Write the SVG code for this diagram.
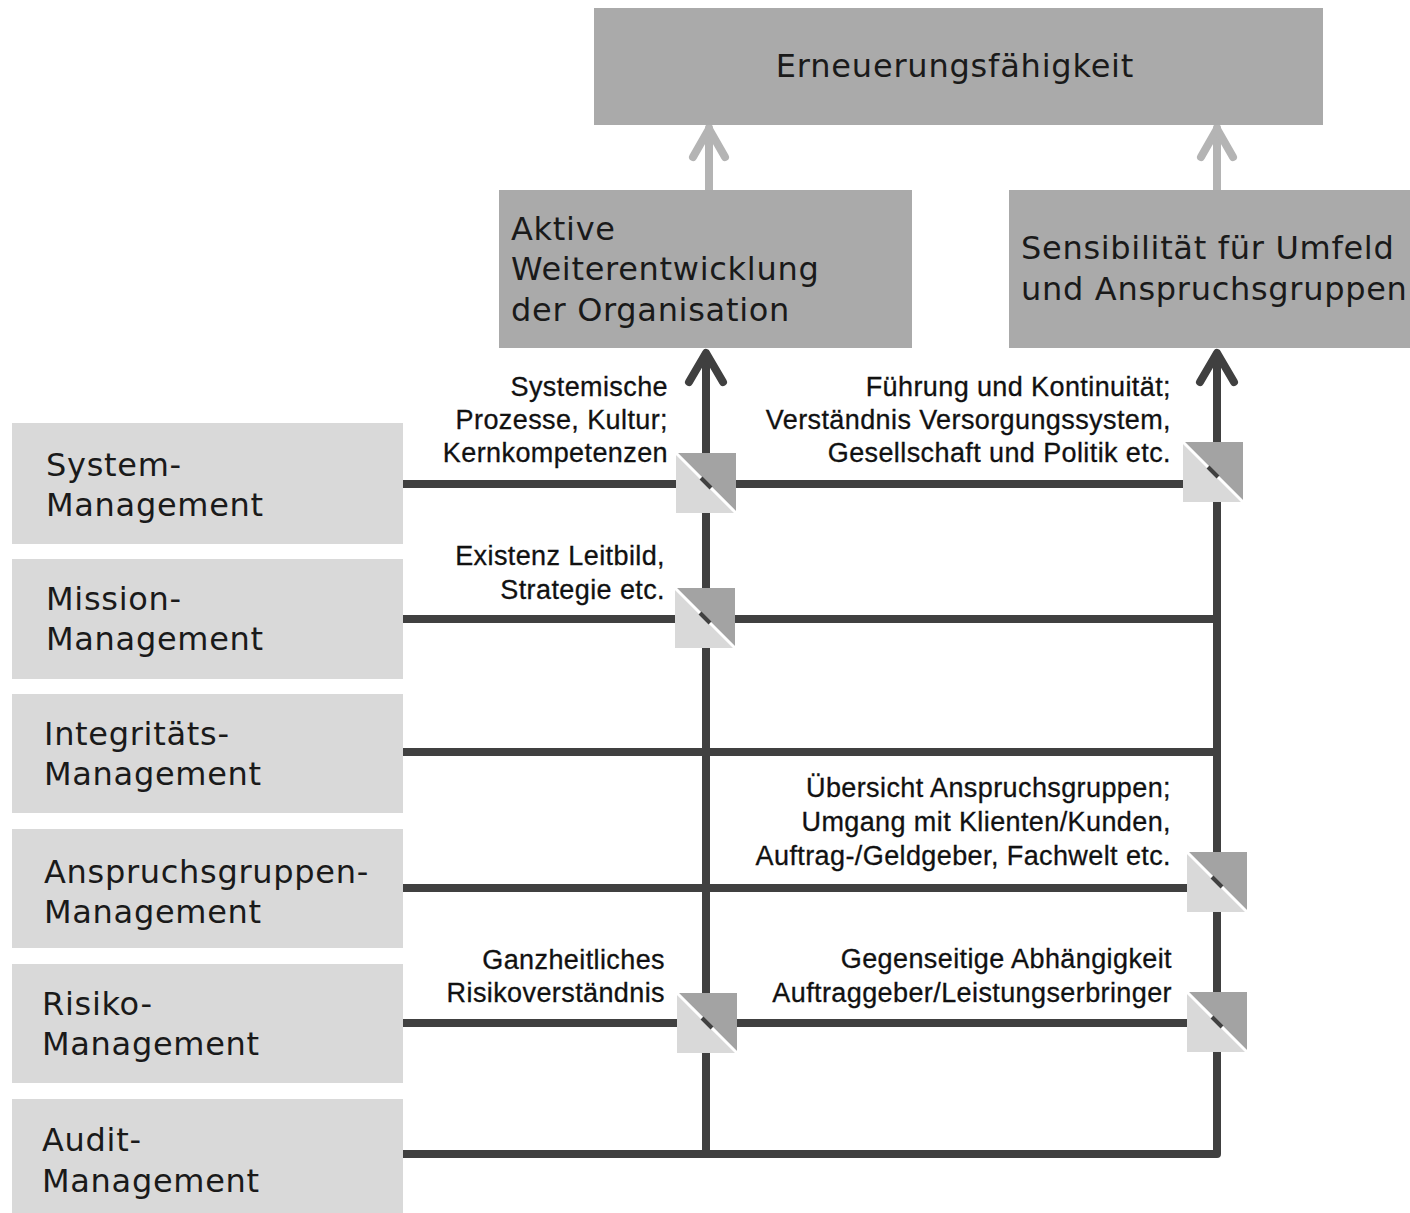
<svg xmlns="http://www.w3.org/2000/svg" width="1410" height="1213" viewBox="0 0 1410 1213">
<defs>
<style>
.dark{fill:#aaaaaa}
.light{fill:#d9d9d9}
.bt{font-family:"DejaVu Sans",Verdana,sans-serif;font-size:32px;letter-spacing:0.7px;fill:#1a1a1a}
.lb{font-family:"Liberation Sans",Arial,sans-serif;font-size:27px;letter-spacing:0.4px;fill:#111111;stroke:#111111;stroke-width:0.3;text-anchor:end}
.ln{stroke:#404040;stroke-width:8;fill:none}
.ga{stroke:#b4b4b4;stroke-width:8;fill:none;stroke-linecap:round;stroke-linejoin:round}
.da{stroke:#404040;stroke-width:8;fill:none;stroke-linecap:round;stroke-linejoin:round}
</style>
<g id="junction">
<polygon points="0,0 60,0 60,60" fill="#a3a3a3"/>
<polygon points="0,0 60,60 0,60" fill="#d9d9d9"/>
<line x1="0" y1="0" x2="60" y2="60" stroke="#ffffff" stroke-width="3"/>
<line x1="25" y1="25" x2="35" y2="35" stroke="#404040" stroke-width="4"/>
</g>
</defs>
<rect width="1410" height="1213" fill="#ffffff"/>

<g id="connectors">
<line class="ga" x1="709" y1="196" x2="709" y2="128"/>
<polyline class="ga" points="693,157 709,129 725,157"/>
<line class="ga" x1="1217" y1="196" x2="1217" y2="128"/>
<polyline class="ga" points="1201,157 1217,129 1233,157"/>
<path class="ln" d="M706,1154 V356"/>
<polyline class="da" points="689,382 706,353 723,382"/>
<path class="ln" d="M1217,1154 V356"/>
<polyline class="da" points="1200,382 1217,353 1234,382"/>
<line class="ln" x1="403" y1="484" x2="1185" y2="484"/>
<line class="ln" x1="403" y1="619" x2="1221" y2="619"/>
<line class="ln" x1="403" y1="752" x2="1221" y2="752"/>
<line class="ln" x1="403" y1="888" x2="1189" y2="888"/>
<line class="ln" x1="403" y1="1023" x2="1221" y2="1023"/>
<path class="ln" d="M403,1154 H1217 V1150" stroke-linejoin="round"/>
<use href="#junction" x="676" y="453"/>
<use href="#junction" x="1183" y="442"/>
<use href="#junction" x="675" y="588"/>
<use href="#junction" x="1187" y="852"/>
<use href="#junction" x="677" y="993"/>
<use href="#junction" x="1187" y="992"/>
</g>

<g id="n-erneuerung">
<rect class="dark" x="594" y="8" width="729" height="117"/>
<text class="bt" x="955" y="77" text-anchor="middle" style="letter-spacing:0.8px">Erneuerungsfähigkeit</text>
</g>
<g id="n-aktive">
<rect class="dark" x="499" y="190" width="413" height="158"/>
<text class="bt" x="511" y="240">Aktive</text>
<text class="bt" x="511" y="280">Weiterentwicklung</text>
<text class="bt" x="511" y="321">der Organisation</text>
</g>
<g id="n-sensibilitaet">
<rect class="dark" x="1009" y="190" width="401" height="158"/>
<text class="bt" x="1021" y="259">Sensibilität für Umfeld</text>
<text class="bt" x="1021" y="300">und Anspruchsgruppen</text>
</g>

<g id="n-system">
<rect class="light" x="12" y="423" width="391" height="121"/>
<text class="bt" x="46" y="476">System-</text>
<text class="bt" x="46" y="516">Management</text>
</g>
<g id="n-mission">
<rect class="light" x="12" y="559" width="391" height="120"/>
<text class="bt" x="46" y="610">Mission-</text>
<text class="bt" x="46" y="650">Management</text>
</g>
<g id="n-integritaet">
<rect class="light" x="12" y="694" width="391" height="119"/>
<text class="bt" x="44" y="745">Integritäts-</text>
<text class="bt" x="44" y="785">Management</text>
</g>
<g id="n-anspruch">
<rect class="light" x="12" y="829" width="391" height="119"/>
<text class="bt" x="44" y="883">Anspruchsgruppen-</text>
<text class="bt" x="44" y="923">Management</text>
</g>
<g id="n-risiko">
<rect class="light" x="12" y="964" width="391" height="119"/>
<text class="bt" x="42" y="1015">Risiko-</text>
<text class="bt" x="42" y="1055">Management</text>
</g>
<g id="n-audit">
<rect class="light" x="12" y="1099" width="391" height="114"/>
<text class="bt" x="42" y="1151">Audit-</text>
<text class="bt" x="42" y="1192">Management</text>
</g>

<g id="labels">
<text class="lb" x="668" y="396">Systemische</text>
<text class="lb" x="668" y="429">Prozesse, Kultur;</text>
<text class="lb" x="668" y="462">Kernkompetenzen</text>
<text class="lb" x="1171" y="396">Führung und Kontinuität;</text>
<text class="lb" x="1171" y="429">Verständnis Versorgungssystem,</text>
<text class="lb" x="1171" y="462">Gesellschaft und Politik etc.</text>
<text class="lb" x="665" y="565">Existenz Leitbild,</text>
<text class="lb" x="665" y="599">Strategie etc.</text>
<text class="lb" x="1171" y="797">Übersicht Anspruchsgruppen;</text>
<text class="lb" x="1171" y="831">Umgang mit Klienten/Kunden,</text>
<text class="lb" x="1171" y="865">Auftrag-/Geldgeber, Fachwelt etc.</text>
<text class="lb" x="665" y="969">Ganzheitliches</text>
<text class="lb" x="665" y="1002">Risikoverständnis</text>
<text class="lb" x="1172" y="968">Gegenseitige Abhängigkeit</text>
<text class="lb" x="1172" y="1002">Auftraggeber/Leistungserbringer</text>
</g>
</svg>
